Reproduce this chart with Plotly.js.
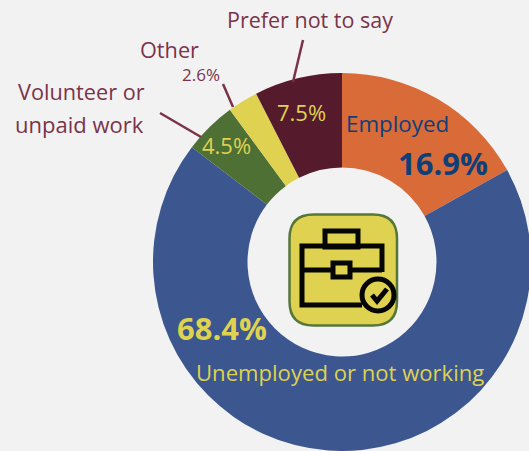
<!DOCTYPE html>
<html>
<head>
<meta charset="utf-8">
<script src="https://cdn.plot.ly/plotly-3.0.1.min.js"></script>
<style>
  html, body { margin: 0; padding: 0; background: #f2f2f2; overflow: hidden; }
  #chart { width: 531px; height: 451px; }
</style>
</head>
<body>
<div id="chart"></div>
<script>
const categories = ["Employed", "Unemployed or not working", "Volunteer or unpaid work", "Other", "Prefer not to say"];
const shares = [16.9, 68.4, 4.5, 2.6, 7.5];
const sliceColors = ["#d96b38", "#3c568f", "#4f7035", "#dfd250", "#561a2d"];

const W = 531, H = 451;
const FONT = "Open Sans, Noto Sans, sans-serif";
const WINE = "#7a3349";
const GOLD = "#dfd250";
const NAVY = "#0f3f78";

const px = x => x / W;
const py = y => 1 - y / H;
const pct = i => shares[i].toFixed(1) + "%";

function note(text, x, y, size, color, bold) {
  return {
    text: bold ? "<b>" + text + "</b>" : text,
    x: px(x), y: py(y), xref: "paper", yref: "paper",
    xanchor: "center", yanchor: "middle", showarrow: false,
    font: { family: FONT, size: size, color: color }
  };
}

const annotations = [
  note(categories[4], 309.5, 20, 21.5, WINE),
  note(categories[3], 169.5, 50, 21.7, WINE),
  note(pct(3), 201, 74, 17, WINE),
  note("Volunteer or", 81, 91, 21.7, WINE),
  note("unpaid work", 79, 124, 22, WINE),
  note(pct(4), 301.5, 112, 22, GOLD),
  note(pct(2), 226.5, 145, 22, GOLD),
  note(categories[0], 397.5, 124, 22.3, NAVY),
  note(pct(0), 443.5, 163, 31, NAVY, true),
  note(pct(1), 222, 328, 31, GOLD, true),
  note(categories[1], 340, 372, 22.1, GOLD)
];

function line(x0, y0, x1, y1, color, width) {
  return {
    type: "line", xref: "paper", yref: "paper",
    x0: px(x0), y0: py(y0), x1: px(x1), y1: py(y1),
    line: { color: color, width: width }
  };
}

function rect(x0, y0, x1, y1, fill, stroke, width) {
  return {
    type: "rect", xref: "paper", yref: "paper",
    x0: px(x0), y0: py(y0), x1: px(x1), y1: py(y1),
    fillcolor: fill, line: { color: stroke, width: width }
  };
}

// Rounded badge behind the briefcase
function roundedBadge(x0, y0, x1, y1, r) {
  const P = (x, y) => px(x) + "," + py(y);
  return "M" + P(x0 + r, y0) + " L" + P(x1 - r, y0) +
    " Q" + P(x1, y0) + " " + P(x1, y0 + r) + " L" + P(x1, y1 - r) +
    " Q" + P(x1, y1) + " " + P(x1 - r, y1) + " L" + P(x0 + r, y1) +
    " Q" + P(x0, y1) + " " + P(x0, y1 - r) + " L" + P(x0, y0 + r) +
    " Q" + P(x0, y0) + " " + P(x0 + r, y0) + " Z";
}

function polyline(points, color, width) {
  const d = points.map((p, i) => (i ? "L" : "M") + px(p[0]) + "," + py(p[1])).join(" ");
  return { type: "path", xref: "paper", yref: "paper", path: d, line: { color: color, width: width } };
}

const ICON = "#050505";
const STROKE = 5;
const shapes = [
  line(303, 40, 293, 82, WINE, 2.5),
  line(223, 84, 233, 107, WINE, 2.5),
  line(160, 113, 201, 137, WINE, 2.5),
  { type: "path", xref: "paper", yref: "paper", path: roundedBadge(289.5, 214.5, 397, 325.5, 24),
    fillcolor: GOLD, line: { color: "#56763a", width: 2.5 } },
  rect(325, 231, 358, 247, "rgba(0,0,0,0)", ICON, STROKE),
  polyline([[362, 305], [302, 305], [302, 246], [382, 246], [382, 272]], ICON, STROKE),
  line(302, 270, 382, 270, ICON, STROKE),
  rect(333, 263, 350, 277, GOLD, ICON, STROKE),
  { type: "circle", xref: "paper", yref: "paper",
    x0: px(362), y0: py(279), x1: px(394), y1: py(311),
    fillcolor: GOLD, line: { color: ICON, width: STROKE } },
  polyline([[372, 295], [377, 301], [387, 289]], ICON, STROKE)
];

Plotly.newPlot("chart", [{
  type: "pie",
  labels: categories,
  values: shares,
  hole: 0.5,
  sort: false,
  direction: "clockwise",
  rotation: 0,
  textinfo: "none",
  hoverinfo: "label+percent",
  marker: { colors: sliceColors, line: { width: 0 } },
  domain: { x: [153 / W, 1], y: [0, 378 / H] },
  showlegend: false
}], {
  width: W,
  height: H,
  margin: { l: 0, r: 0, t: 0, b: 0, pad: 0 },
  paper_bgcolor: "#f2f2f2",
  annotations: annotations,
  shapes: shapes,
  showlegend: false
}, { displayModeBar: false, staticPlot: true });
</script>
</body>
</html>
